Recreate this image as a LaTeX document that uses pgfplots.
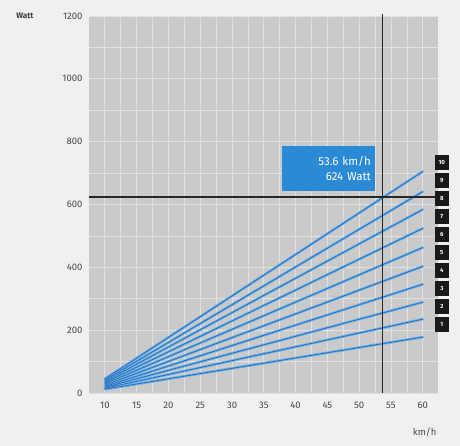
\documentclass[border=0pt]{standalone}
\usepackage{pgfplots}
\pgfplotsset{compat=1.18}
\usepackage{pgfplotstable}
\usepackage{fontspec}
\setmainfont{Fira Sans}
\definecolor{bg}{HTML}{EEF0F1}
\definecolor{plotbg}{HTML}{CACACA}
\definecolor{gridc}{HTML}{E2E2E2}
\definecolor{lblue}{HTML}{6CB2EC}
\definecolor{dblue}{HTML}{2A6DB3}
\definecolor{boxblue}{HTML}{2B8AD6}
\definecolor{tickc}{HTML}{484848}
\pgfplotstableread{
x  y1  y2  y3  y4  y5  y6  y7  y8  y9  y10
10 12  15  18  21  25  29  33  37  41  45
60 178 235 289 346 403 463 524 584 641 705
}\powerdata
\pgfplotstableread{
y   n
219 1
276 2
333 3
390 4
447 5
504 6
561 7
618 8
675 9
733 10
}\boxdata
\begin{document}
\begin{tikzpicture}
\fill[bg] (-89bp,-53bp) rectangle (371bp,393bp);
\begin{axis}[
  scale only axis,
  width=349bp, height=377bp,
  xmin=7.5, xmax=62.4, ymin=0, ymax=1200,
  xtick={10,15,...,60},
  ytick={0,200,...,1200},
  minor x tick num=1,
  minor y tick num=1,
  grid=both,
  major grid style={draw=gridc, line width=0.9pt},
  minor grid style={draw=gridc, line width=0.6pt},
  axis background/.style={fill=plotbg},
  axis line style={draw=none},
  major tick length=0pt, minor tick length=0pt,
  tick label style={font=\fontsize{9.5bp}{11bp}\selectfont, text=tickc},
  yticklabel style={xshift=-3bp},
  xticklabel style={yshift=-6bp},
  /pgf/number format/1000 sep={},
  /pgf/number format/assume math mode=true,
  clip=false,
]
\pgfplotsinvokeforeach{1,...,10}{
  \addplot[lblue, line width=2.6pt, line cap=round] table[x=x, y=y#1] {\powerdata};
}
\pgfplotsinvokeforeach{1,...,10}{
  \addplot[dblue, line width=0.8pt] table[x=x, y=y#1] {\powerdata};
}
\draw[black!85, line width=1.1pt] (axis cs:7.5,624) -- (axis cs:62.4,624);
\draw[black!85, line width=1.1pt] (axis cs:53.6,1205) -- (axis cs:53.6,0);
\node[fill=boxblue, text=white, anchor=south east, align=right,
      text width=85bp, minimum height=45bp, inner sep=4bp,
      font=\fontsize{11.5bp}{15bp}\selectfont]
  at (axis cs:52.5,641) {53.6 km/h\\624 Watt};
\addplot[only marks, mark=none,
  nodes near coords={\pgfmathprintnumber{\pgfplotspointmeta}},
  point meta=explicit,
  every node near coord/.style={anchor=center, fill=black!90, text=white,
     minimum width=14bp, minimum height=15bp, inner sep=0pt,
     font=\bfseries\fontsize{6bp}{7bp}\selectfont}]
  table[x expr=63.0, y=y, meta=n] {\boxdata};
\node[font=\bfseries\fontsize{8bp}{9bp}\selectfont, text=black!75] at ([xshift=-64bp]axis cs:7.5,1200) {Watt};
\node[font=\fontsize{9.5bp}{11bp}\selectfont, text=tickc] at ([yshift=-39bp]axis cs:60.3,0) {km/h};
\end{axis}
\pgfresetboundingbox
\useasboundingbox (-89bp,-53bp) rectangle (371bp,393bp);
\end{tikzpicture}
\end{document}
